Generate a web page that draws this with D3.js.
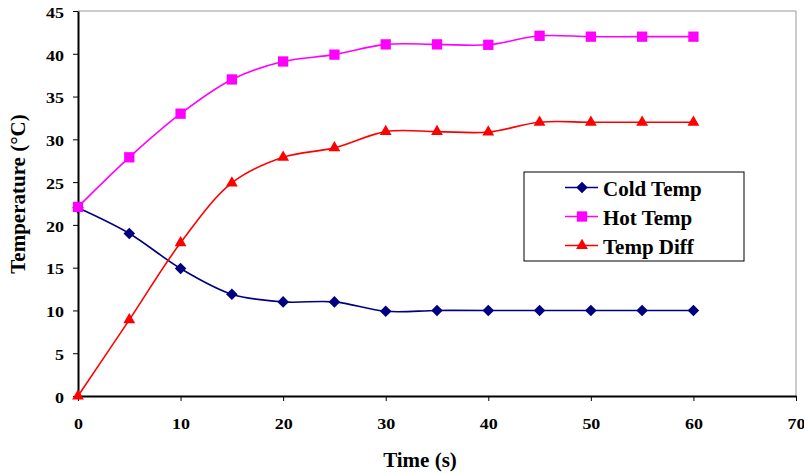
<!DOCTYPE html>
<html>
<head>
<meta charset="utf-8">
<script src="https://cdn.jsdelivr.net/npm/d3@7"></script>
<style>
  html, body { margin: 0; padding: 0; background: #fff; }
  svg { display: block; font-family: "Liberation Serif", "Times New Roman", serif; font-weight: bold; }
</style>
</head>
<body>
<svg id="chart" width="804" height="473"></svg>
<script>
// Time samples (s)
const times = [0, 5, 10, 15, 20, 25, 30, 35, 40, 45, 50, 55, 60];
// Temperatures (°C)
const coldTemp = [22, 19, 14.9, 11.9, 11, 11, 9.9, 10, 10, 10, 10, 10, 10];
const hotTemp  = [22.1, 27.9, 33, 37, 39.1, 39.9, 41.1, 41.1, 41.05, 42.1, 42, 42, 42];
const tempDiff = [0, 8.9, 17.9, 24.9, 27.9, 29, 30.9, 30.9, 30.85, 32, 32, 32, 32];
const xTicks = [0, 10, 20, 30, 40, 50, 60, 70];
const yTicks = [0, 5, 10, 15, 20, 25, 30, 35, 40, 45];
const seriesNames = ["Cold Temp", "Hot Temp", "Temp Diff"];

const series = [
  { name: seriesNames[0], values: coldTemp, color: "#000080", symbol: d3.symbolDiamond2,  size: 85 },
  { name: seriesNames[1], values: hotTemp,  color: "#FF00FF", symbol: d3.symbolSquare2,   size: 135 },
  { name: seriesNames[2], values: tempDiff, color: "#FF0000", symbol: d3.symbolTriangle2, size: 100 }
];

const svg = d3.select("#chart");
const plotL = 78, plotR = 796, plotT = 11, plotB = 396;

const x = d3.scaleLinear().domain([0, 70]).range([plotL, plotR]);
const y = d3.scaleLinear().domain([0, 45]).range([plotB, plotT]);

// Plot frame: light top and right edges
svg.append("line").attr("x1", plotL).attr("x2", plotR).attr("y1", plotT).attr("y2", plotT)
  .attr("stroke", "#999").attr("stroke-width", 1);
svg.append("line").attr("x1", plotR).attr("x2", plotR).attr("y1", plotT).attr("y2", plotB)
  .attr("stroke", "#999").attr("stroke-width", 1);

// Axes
const xAxis = svg.append("g").attr("transform", `translate(0,${plotB})`)
  .call(d3.axisBottom(x).tickValues(xTicks).tickSize(5).tickPadding(17).tickSizeOuter(0));
const yAxis = svg.append("g").attr("transform", `translate(${plotL},0)`)
  .call(d3.axisLeft(y).tickValues(yTicks).tickSize(5).tickPadding(9).tickSizeOuter(0));

const stretch = 1.2; // tick numerals are drawn slightly wide
[xAxis, yAxis].forEach(g => {
  g.select(".domain").attr("stroke", "#000").attr("stroke-width", 2);
  g.selectAll(".tick line").attr("stroke", "#000").attr("stroke-width", 1);
  g.selectAll(".tick text").attr("fill", "#000")
    .style("font-family", "'Liberation Serif', 'Times New Roman', serif")
    .style("font-weight", "bold").style("font-size", "15px");
});
xAxis.selectAll(".tick text").attr("transform", `scale(${stretch},1)`);
yAxis.selectAll(".tick text")
  .attr("x", -14 / stretch).attr("dy", "0.42em")
  .attr("transform", `scale(${stretch},1)`);

// Axis titles
svg.append("text").attr("x", 420).attr("y", 467)
  .attr("text-anchor", "middle").style("font-size", "21px").text("Time (s)");
svg.append("text").attr("transform", "translate(25,194) rotate(-90)")
  .attr("text-anchor", "middle").style("font-size", "21px").text("Temperature (°C)");

// Smoothed series lines and markers
const line = d3.line()
  .x((d, i) => x(times[i]))
  .y(d => y(d))
  .curve(d3.curveCatmullRom.alpha(0.5));

series.forEach(s => {
  svg.append("path").datum(s.values)
    .attr("d", line).attr("fill", "none")
    .attr("stroke", s.color).attr("stroke-width", 1.6);
  svg.append("g").selectAll("path").data(s.values).join("path")
    .attr("transform", (d, i) => `translate(${x(times[i])},${y(d)})`)
    .attr("d", d3.symbol().type(s.symbol).size(s.size))
    .attr("fill", s.color);
});

// Legend
const lg = svg.append("g").attr("transform", "translate(524,172)");
lg.append("rect").attr("width", 220).attr("height", 89)
  .attr("fill", "#fff").attr("stroke", "#000").attr("stroke-width", 1);
series.forEach((s, i) => {
  const yy = 15.5 + i * 29;
  lg.append("line").attr("x1", 41).attr("x2", 74).attr("y1", yy).attr("y2", yy)
    .attr("stroke", s.color).attr("stroke-width", 1.6);
  lg.append("path").attr("transform", `translate(58,${yy})`)
    .attr("d", d3.symbol().type(s.symbol).size(s.size)).attr("fill", s.color);
  lg.append("text").attr("x", 79).attr("y", yy + 8)
    .style("font-size", "21px").text(s.name);
});
</script>
</body>
</html>
